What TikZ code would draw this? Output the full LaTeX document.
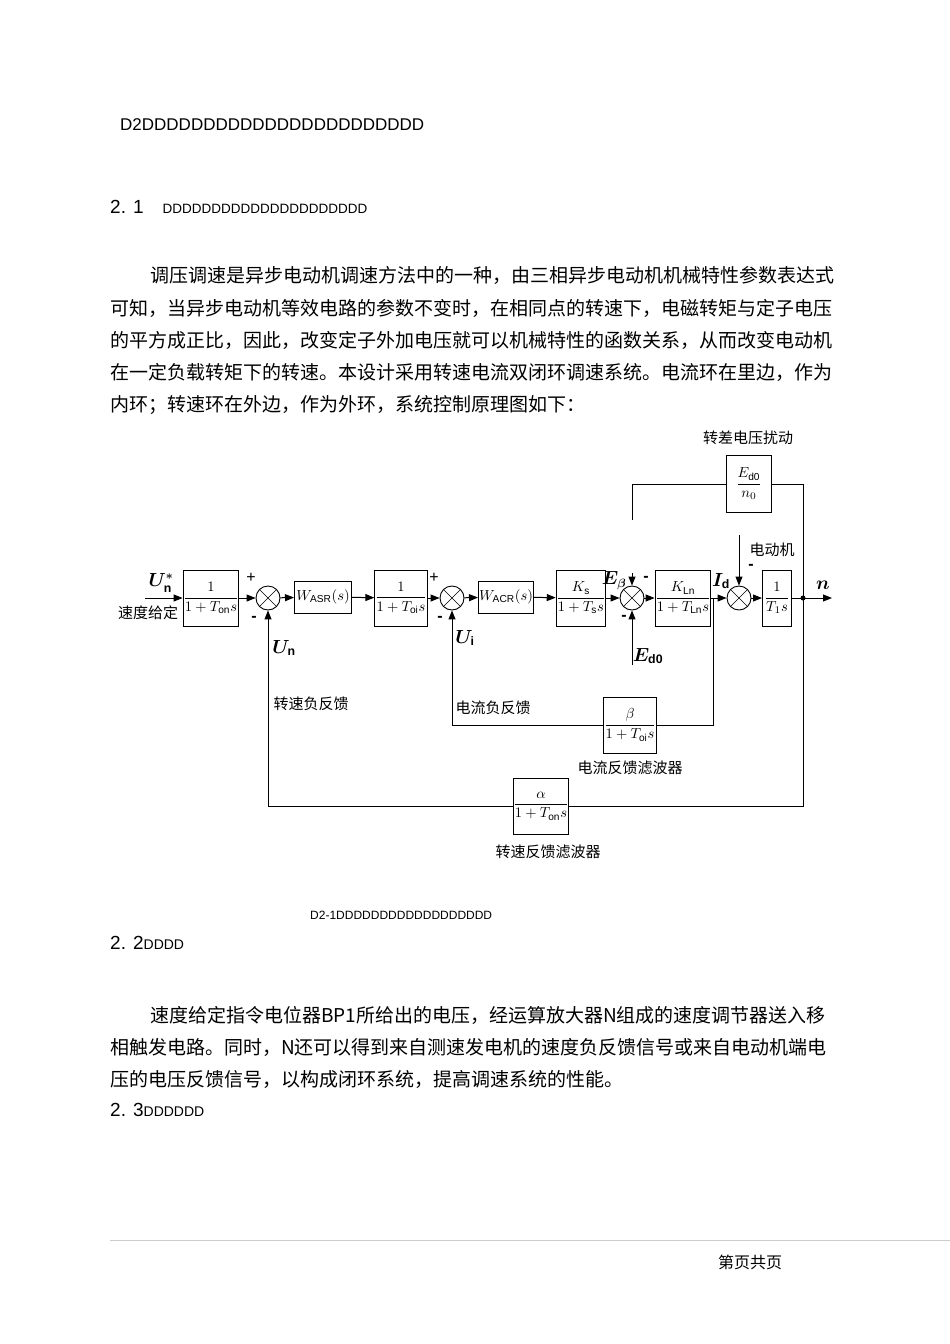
\documentclass[tikz,border=0pt]{standalone}
\usepackage{amsmath}
\usepackage{graphicx}
\usepackage{fontspec}
\setmainfont{Liberation Sans}
\newfontfamily\cjk{Noto Sans CJK SC}
\usetikzlibrary{arrows.meta}
\newcommand\blkmath[1]{\scalebox{1.45}{$\displaystyle #1$}}
\newcommand\labmath[1]{\scalebox{1.1}{$#1$}}
\begin{document}
\begin{tikzpicture}[x=1pt,y=-1pt,
 blk/.style={draw,line width=1pt,inner sep=0pt},
 sm/.style={draw,circle,line width=0.9pt,minimum size=24pt,inner sep=0pt,path picture={\draw[line width=0.6pt] (path picture bounding box.north west)--(path picture bounding box.south east) (path picture bounding box.north east)--(path picture bounding box.south west);}},
 ar/.style={line width=1pt,-{Triangle[length=9pt,width=7pt]}},
 ln/.style={line width=1pt},
 body/.style={anchor=west,inner sep=0pt,font=\cjk\fontsize{19}{22}\selectfont},
 lab/.style={inner sep=0pt,font=\cjk\fontsize{15}{17}\selectfont},
 sg/.style={inner sep=0pt,font=\fontsize{16}{18}\selectfont\bfseries},
 ml/.style={inner sep=0pt,font=\fontsize{16}{18}\selectfont},
 hd/.style={anchor=west,inner sep=0pt}]
\useasboundingbox (0,0) rectangle (950,1344);
\fill[white] (0,0) rectangle (950,1344);
% headings & text
\node[hd,font=\fontsize{17}{20}\selectfont] (h0) at (120,125) {D2DDDDDDDDDDDDDDDDDDDDDDD};
\node[hd] (h1) at (110,207) {\fontsize{19}{22}\selectfont 2. 1\quad\fontsize{13.5}{16}\selectfont DDDDDDDDDDDDDDDDDDDDD};
\node[body] (t1) at (150,275) {调压调速是异步电动机调速方法中的一种，由三相异步电动机机械特性参数表达式};
\node[body] (t2) at (110,308) {可知，当异步电动机等效电路的参数不变时，在相同点的转速下，电磁转矩与定子电压};
\node[body] (t3) at (110,340) {的平方成正比，因此，改变定子外加电压就可以机械特性的函数关系，从而改变电动机};
\node[body] (t4) at (110,372) {在一定负载转矩下的转速。本设计采用转速电流双闭环调速系统。电流环在里边，作为};
\node[body] (t5) at (110,405) {内环；转速环在外边，作为外环，系统控制原理图如下：};
\node[hd,font=\fontsize{12}{14}\selectfont] (cap) at (310,915) {D2-1DDDDDDDDDDDDDDDDDD};
\node[hd] (h2) at (110,943) {\fontsize{19}{22}\selectfont 2. 2\fontsize{14}{16}\selectfont DDDD};
\node[body] (b1) at (150,1015) {速度给定指令电位器BP1所给出的电压，经运算放大器N组成的速度调节器送入移};
\node[body] (b2) at (110,1047) {相触发电路。同时，N还可以得到来自测速发电机的速度负反馈信号或来自电动机端电};
\node[body] (b3) at (110,1079) {压的电压反馈信号，以构成闭环系统，提高调速系统的性能。};
\node[hd] (h3) at (110,1110) {\fontsize{19}{22}\selectfont 2. 3\fontsize{14}{16}\selectfont DDDDDD};
\draw[gray!40,line width=0.6pt] (110,1240) -- (950,1240);
\node[inner sep=0pt,font=\cjk\fontsize{16}{18}\selectfont] (foot) at (750,1262) {第页共页};
% diagram blocks
\node[blk,minimum width=52pt,minimum height=56pt] (g1) at (211,598) {\blkmath{\frac{1}{1+T_{\mathrm{on}}s}}};
\node[sm] (s1) at (268,598) {};
\node[blk,minimum width=57pt,minimum height=32pt] (asr) at (323,597) {\blkmath{W_{\mathrm{ASR}}(s)}};
\node[blk,minimum width=52pt,minimum height=56pt] (g2) at (401,598) {\blkmath{\frac{1}{1+T_{\mathrm{oi}}s}}};
\node[sm] (s2) at (452,598) {};
\node[blk,minimum width=55pt,minimum height=32pt] (acr) at (506,597) {\blkmath{W_{\mathrm{ACR}}(s)}};
\node[blk,minimum width=49pt,minimum height=56pt] (gs) at (581,598) {\blkmath{\frac{K_{\mathrm{s}}}{1+T_{\mathrm{s}}s}}};
\node[sm] (s3) at (632,598) {};
\node[blk,minimum width=53pt,minimum height=56pt] (gl) at (683,598) {\blkmath{\frac{K_{\mathrm{Ln}}}{1+T_{\mathrm{Ln}}s}}};
\node[sm] (s4) at (739,598) {};
\node[blk,minimum width=29pt,minimum height=56pt] (gt) at (777,598) {\blkmath{\frac{1}{T_{1}s}}};
\node[blk,minimum width=49pt,minimum height=56pt] (gb) at (630,725) {\blkmath{\frac{\beta}{1+T_{\mathrm{oi}}s}}};
\node[blk,minimum width=49pt,minimum height=56pt] (ga) at (541,806) {\blkmath{\frac{\alpha}{1+T_{\mathrm{on}}s}}};
\node[blk,minimum width=45pt,minimum height=57pt] (ge) at (749,484) {\blkmath{\frac{E_{\mathrm{d0}}}{n_{0}}}};
\coordinate (in) at (145,598);
\coordinate (out) at (832,598);
\coordinate (tap) at (803,598);
\coordinate (itap) at (713,598);
\coordinate (eb) at (632,573);
\coordinate (ed) at (632,665);
\coordinate (dis) at (739,535);
\coordinate (topend) at (632,520);
\fill (tap) circle (2.5pt);
% forward path
\draw[ar] (in) -- (g1);
\draw[ar] (g1) -- (s1);
\draw[ar] (s1) -- (asr);
\draw[ar] (asr) -- (g2);
\draw[ar] (g2) -- (s2);
\draw[ar] (s2) -- (acr);
\draw[ar] (acr) -- (gs);
\draw[ar] (gs) -- (s3);
\draw[ar] (s3) -- (gl);
\draw[ar] (gl) -- (s4);
\draw[ar] (s4) -- (gt);
\draw[ar] (gt) -- (out);
\draw[ar] (eb) -- (s3);
\draw[ar] (ed) -- (s3);
\draw[ar] (dis) -- (s4);
% feedback loops
\draw[ln] (itap) |- (gb);
\draw[ar] (gb) -| (s2);
\draw[ln] (tap) |- (ga);
\draw[ar] (ga) -| (s1);
\draw[ln] (tap) |- (ge);
\draw[ln] (ge) -| (topend);
% labels
\node[ml] (lun) at (161,583) {\labmath{\boldsymbol{U_{\mathrm{n}}^{*}}}};
\node[lab] (lsd) at (148,613) {速度给定};
\node[ml] (p1) at (251,578) {+};
\node[sg] (m1) at (254,619) {-};
\node[ml] (p2) at (434,578) {+};
\node[sg] (m2) at (440,619) {-};
\node[sg] (m3) at (646,579) {-};
\node[sg] (m4) at (624,618) {-};
\node[sg] (m5) at (751,567) {-};
\node[ml] (lun2) at (284,648) {\labmath{\boldsymbol{U_{\mathrm{n}}}}};
\node[ml] (lui) at (465,638) {\labmath{\boldsymbol{U_{\mathrm{i}}}}};
\node[ml] (leb) at (614,581) {\labmath{\boldsymbol{E_{\beta}}}};
\node[ml] (led) at (648,656) {\labmath{\boldsymbol{E_{\mathrm{d0}}}}};
\node[ml] (lid) at (721,581) {\labmath{\boldsymbol{I_{\mathrm{d}}}}};
\node[ml] (ln) at (823,585) {\labmath{\boldsymbol{n}}};
\node[lab] (lmot) at (772,550) {电动机};
\node[lab] (lzc) at (748,438) {转差电压扰动};
\node[lab] (lzs) at (311,704) {转速负反馈};
\node[lab] (ldl) at (493,708) {电流负反馈};
\node[lab] (ldf) at (630,768) {电流反馈滤波器};
\node[lab] (lzf) at (548,852) {转速反馈滤波器};
\end{tikzpicture}
\end{document}
